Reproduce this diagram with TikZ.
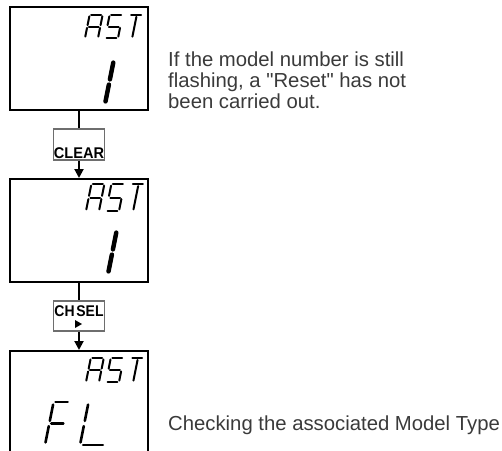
\documentclass[tikz,border=0pt]{standalone}
\usepackage{fontspec}
\setmainfont{Liberation Sans}
\usetikzlibrary{arrows.meta}
\definecolor{notegray}{HTML}{3A3A3A}
\definecolor{keygray}{HTML}{6E6E6E}

\tikzset{
  screen/.style={draw, line width=2pt, minimum width=138pt, minimum height=103pt, inner sep=0pt},
  keybox/.style={draw=keygray, line width=1.2pt, minimum width=51pt, inner sep=0pt},
  keytext/.style={font=\bfseries\fontsize{15.5}{15.5}\selectfont, inner sep=0pt, anchor=base},
  link/.style={line width=2pt},
  note/.style={text=notegray, font=\fontsize{20.3}{20.6}\selectfont, align=left, inner sep=0pt, anchor=base west},
  lcd/.style={line width=2pt, line cap=round},
  lcdbig/.style={line width=4.5pt, line cap=round},
  lcdmid/.style={line width=2.6pt, line cap=round},
  % one stroke of a seven segment glyph, unit box 1 x 1
  seg a/.pic={\draw (0.12,1) -- (0.88,1);},
  seg b/.pic={\draw (1,0.94) -- (1,0.56);},
  seg c/.pic={\draw (1,0.44) -- (1,0.06);},
  seg d/.pic={\draw (0.12,0) -- (0.88,0);},
  seg e/.pic={\draw (0,0.44) -- (0,0.06);},
  seg f/.pic={\draw (0,0.94) -- (0,0.56);},
  seg g/.pic={\draw (0.12,0.5) -- (0.88,0.5);},
  seg t/.pic={\draw (0.55,0.92) -- (0.55,0.06);},
}

% \lcdglyph[style]{x}{y}{width}{height}{segments}, (x,y) = bottom left
\newcommand{\lcdglyph}[6][lcd]{%
  \begin{scope}[shift={(#2,#3)}, xslant=0.2, x=#4pt, y=#5pt, #1]
    \foreach \s in {#6} {\pic[transform shape] {seg \s};}
  \end{scope}}

\begin{document}
\begin{tikzpicture}[x=1pt, y=-1pt]
  \useasboundingbox (0,0) rectangle (502,450);
  \clip (0,0) rectangle (502,450);

  % displays
  \node[screen] (s1) at (79,58.5) {};
  \node[screen] (s2) at (79,230.5) {};
  \node[screen] (s3) at (79,402.5) {};

  % keys
  \node[keybox, minimum height=31pt] (clear) at (79,144.5) {};
  \node[keytext] (cleartxt) at (79,158.5) {\scalebox{0.94}[1]{CLEAR}};
  \node[keybox, minimum height=30pt] (chsel) at (79,316) {};
  \node[keytext] (cheseltxt) at (79,316.5) {\scalebox{0.9}[1]{CH\hspace{2pt}SEL}};
  \fill (75,320) -- (82,324) -- (75,328) -- cycle;

  \draw[link] (s1.south) -- (clear.north);
  \draw[link,-{Triangle[length=9pt,width=9pt]}] (clear.south) -- (s2.north);
  \draw[link] (s2.south) -- (chsel.north);
  \draw[link,-{Triangle[length=9pt,width=9pt]}] (chsel.south) -- (s3.north);

  % first display: RST / 1
  \lcdglyph{85}{38}{13}{23}{a,b,c,e,f,g}
  \lcdglyph{105}{38}{13}{23}{a,f,g,c,d}
  \lcdglyph{125}{38}{13}{23}{a,t}
  \lcdglyph[lcdbig]{95}{104}{10}{44}{b,c}

  % second display: RST / 1
  \lcdglyph{86}{211}{13}{27}{a,b,c,e,f,g}
  \lcdglyph{106}{211}{13}{27}{a,f,g,c,d}
  \lcdglyph{126}{211}{13}{27}{a,t}
  \lcdglyph[lcdbig]{98}{274}{10}{44}{b,c}

  % third display: RST / FL
  \lcdglyph{86}{382}{13}{24}{a,b,c,e,f,g}
  \lcdglyph{106}{382}{13}{24}{a,f,g,c,d}
  \lcdglyph{126}{382}{13}{24}{a,t}
  \lcdglyph[lcdmid]{45}{445}{16}{43}{a,f,e,g}
  \lcdglyph[lcdmid]{80}{445}{26}{43}{f,e,d}

  \node[note] (resetnote) at (168,108) {If the model number is still\\flashing, a \textquotedbl Reset\textquotedbl{} has not\\been carried out.};
  \node[note] (typenote) at (168,430) {Checking the associated Model Type};
\end{tikzpicture}
\end{document}
